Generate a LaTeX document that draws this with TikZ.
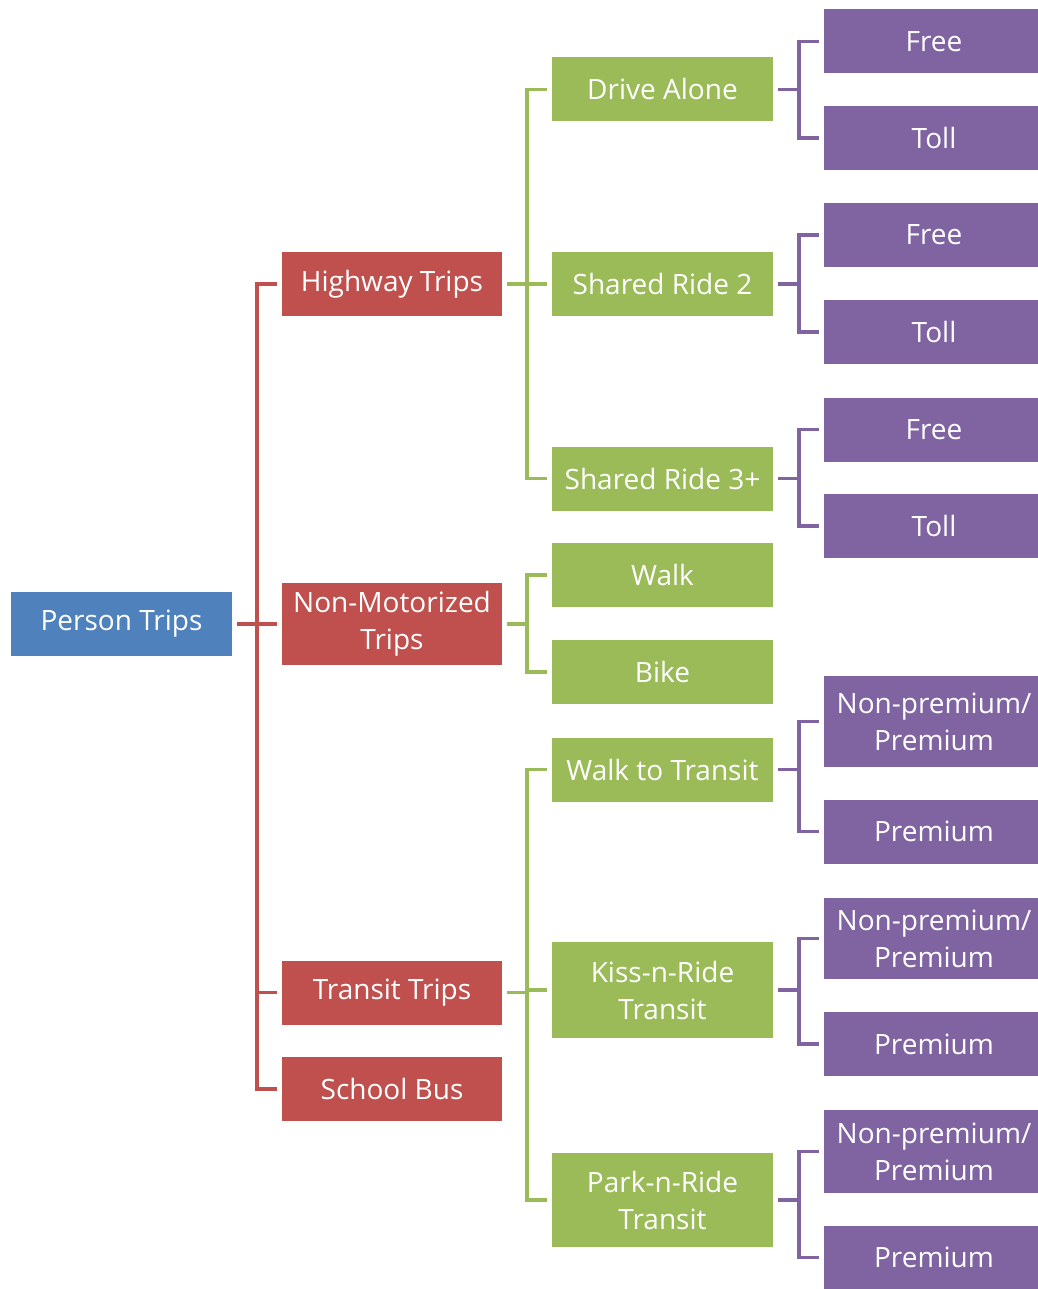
\documentclass[tikz,border=0pt]{standalone}
\usepackage{fontspec}
\setmainfont{Open Sans}
\begin{document}
\begin{tikzpicture}[x=1pt,y=-1pt,
  box/.style={draw=none,inner sep=0pt,text=white,align=center,
    font=\fontsize{28}{37}\selectfont},
  bluebox/.style={box,fill=blue1,minimum width=221pt,minimum height=64pt},
  redbox/.style={box,fill=red1,minimum width=220pt},
  greenbox/.style={box,fill=green1,minimum width=221pt},
  purplebox/.style={box,fill=purple1,minimum width=220pt},
  ht/.style={minimum height=#1},
  link/.style={line width=3.6pt,line join=miter},
  rlink/.style={link,draw=red1},
  glink/.style={link,draw=green1},
  plink/.style={link,draw=purple1}]
\definecolor{blue1}{HTML}{4F81BD}
\definecolor{red1}{HTML}{C0504D}
\definecolor{green1}{HTML}{9BBB59}
\definecolor{purple1}{HTML}{8064A2}
\useasboundingbox (0,0) rectangle (1037,1289);

% root
\node[bluebox] (pt) at (121.5,624) {Person Trips};

% second level
\node[redbox,ht=64pt] (hw) at (392,284) {Highway Trips};
\node[redbox,ht=82pt] (nm) at (392,624) {Non-Motorized\\Trips};
\node[redbox,ht=64pt] (tt) at (392,992.5) {Transit Trips};
\node[redbox,ht=64pt] (sb) at (392,1089) {School Bus};

% third level
\node[greenbox,ht=64pt] (da) at (662.5,89.5) {Drive Alone};
\node[greenbox,ht=64pt] (s2) at (662.5,284) {Shared Ride 2};
\node[greenbox,ht=64pt] (s3) at (662.5,478.5) {Shared Ride 3+};
\node[greenbox,ht=64pt] (wk) at (662.5,575) {Walk};
\node[greenbox,ht=64pt] (bk) at (662.5,672) {Bike};
\node[greenbox,ht=64pt] (wt) at (662.5,769.5) {Walk to Transit};
\node[greenbox,ht=96pt] (kr) at (662.5,990) {Kiss-n-Ride\\Transit};
\node[greenbox,ht=94pt] (pr) at (662.5,1200) {Park-n-Ride\\Transit};

% fourth level
\node[purplebox,ht=64pt] (daf) at (934,41.5) {Free};
\node[purplebox,ht=64pt] (dat) at (934,138) {Toll};
\node[purplebox,ht=64pt] (s2f) at (934,235) {Free};
\node[purplebox,ht=64pt] (s2t) at (934,332) {Toll};
\node[purplebox,ht=64pt] (s3f) at (934,429.5) {Free};
\node[purplebox,ht=64pt] (s3t) at (934,526) {Toll};
\node[purplebox,ht=91pt] (wtn) at (934,721.5) {Non-premium/\\Premium};
\node[purplebox,ht=64pt] (wtp) at (934,831.5) {Premium};
\node[purplebox,ht=81pt] (krn) at (934,938.5) {Non-premium/\\Premium};
\node[purplebox,ht=64pt] (krp) at (934,1044) {Premium};
\node[purplebox,ht=83pt] (prn) at (934,1151.5) {Non-premium/\\Premium};
\node[purplebox,ht=64pt] (prp) at (934,1257.5) {Premium};

% connectors
\foreach \c in {hw,nm,tt,sb}
  \draw[rlink] ([xshift=5pt]pt.east) -- ++(20pt,0) |- ([xshift=-5pt]\c.west);
\foreach \p/\c in {hw/da,hw/s2,hw/s3,nm/wk,nm/bk,tt/wt,tt/kr,tt/pr}
  \draw[glink] ([xshift=5pt]\p.east) -- ++(20pt,0) |- ([xshift=-5pt]\c.west);
\foreach \p/\c in {da/daf,da/dat,s2/s2f,s2/s2t,s3/s3f,s3/s3t,wt/wtn,wt/wtp,kr/krn,kr/krp,pr/prn,pr/prp}
  \draw[plink] ([xshift=5pt]\p.east) -- ++(21pt,0) |- ([xshift=-5pt]\c.west);
\end{tikzpicture}
\end{document}
